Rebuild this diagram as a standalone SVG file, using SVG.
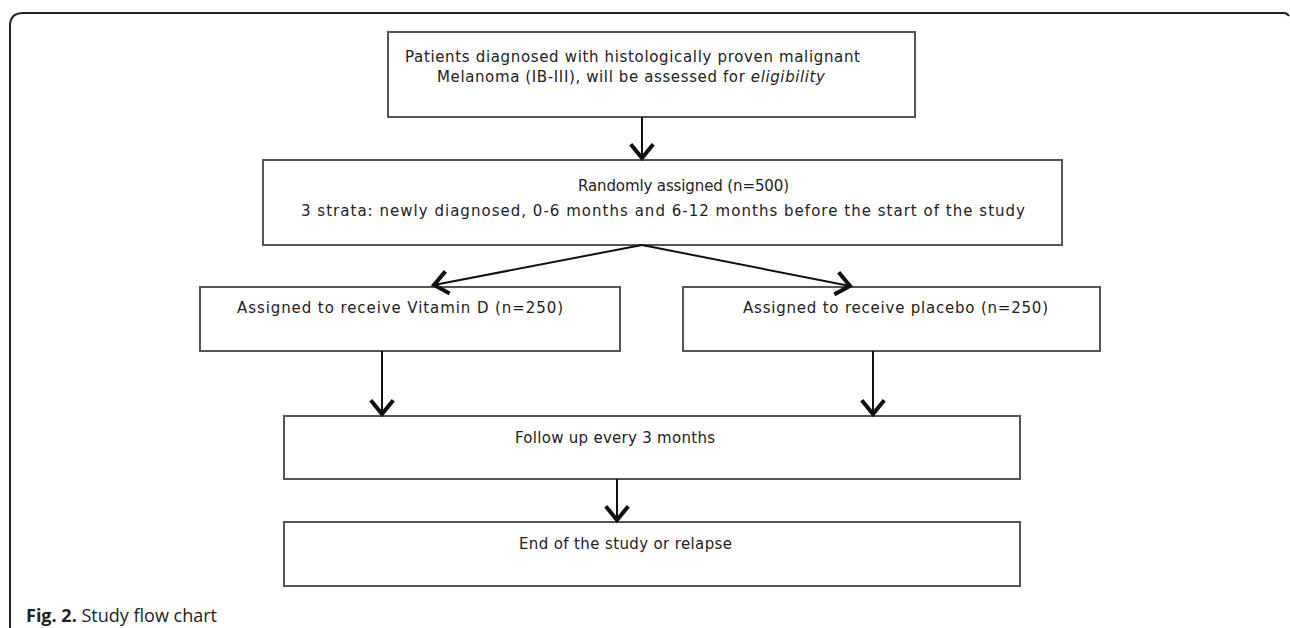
<svg xmlns="http://www.w3.org/2000/svg" width="1290" height="628" viewBox="0 0 1290 628">
<defs>
<style>
.box{fill:#fff;stroke:#555;stroke-width:2}
.t{font-family:"DejaVu Sans","Liberation Sans",sans-serif;font-size:15px;fill:#222}
.conn{stroke:#111;stroke-width:2;fill:none}
.cap{font-family:"Open Sans","Noto Sans",sans-serif;font-size:18px;fill:#222}
</style>
<marker id="ah" markerUnits="userSpaceOnUse" markerWidth="30" markerHeight="30" viewBox="-15 -12 18 24" refX="0" refY="0" orient="auto">
<path d="M-11,-9 L0,0 L-11,9" fill="none" stroke="#111" stroke-width="3.2" stroke-linejoin="miter"/>
</marker>
</defs>
<rect width="1290" height="628" fill="#fff"/>
<path d="M10,628 L10,26 Q10,13 23,13 L1284,13 Q1287,13 1289,16" fill="none" stroke="#222" stroke-width="2"/>
<g id="n1">
<rect class="box" x="388" y="32" width="527" height="85"/>
<text class="t" x="405" y="62" textLength="455">Patients diagnosed with histologically proven malignant</text>
<text class="t" x="437" y="82" textLength="388">Melanoma (IB-III), will be assessed for <tspan font-style="italic">eligibility</tspan></text>
</g>
<g id="n2">
<rect class="box" x="263" y="160" width="799" height="85"/>
<text class="t" x="578" y="191" textLength="211">Randomly assigned (n=500)</text>
<text class="t" x="301" y="216" textLength="724">3 strata: newly diagnosed, 0-6 months and 6-12 months before the start of the study</text>
</g>
<g id="n3">
<rect class="box" x="200" y="287" width="420" height="64"/>
<text class="t" x="237" y="313" textLength="326">Assigned to receive Vitamin D (n=250)</text>
</g>
<g id="n4">
<rect class="box" x="683" y="287" width="417" height="64"/>
<text class="t" x="743" y="313" textLength="305">Assigned to receive placebo (n=250)</text>
</g>
<g id="n5">
<rect class="box" x="284" y="416" width="736" height="63"/>
<text class="t" x="515" y="443" textLength="200">Follow up every 3 months</text>
</g>
<g id="n6">
<rect class="box" x="284" y="522" width="736" height="64"/>
<text class="t" x="519" y="549" textLength="213">End of the study or relapse</text>
</g>
<g id="connectors">
<line class="conn" x1="642" y1="117" x2="642" y2="158" marker-end="url(#ah)"/>
<line class="conn" x1="642" y1="245" x2="434" y2="285" marker-end="url(#ah)"/>
<line class="conn" x1="642" y1="245" x2="850" y2="286" marker-end="url(#ah)"/>
<line class="conn" x1="382" y1="351" x2="382" y2="414" marker-end="url(#ah)"/>
<line class="conn" x1="873" y1="351" x2="873" y2="414" marker-end="url(#ah)"/>
<line class="conn" x1="617" y1="479" x2="617" y2="520" marker-end="url(#ah)"/>
</g>
<text class="cap" x="26" y="622"><tspan font-weight="bold">Fig. 2.</tspan> Study flow chart</text>
</svg>
